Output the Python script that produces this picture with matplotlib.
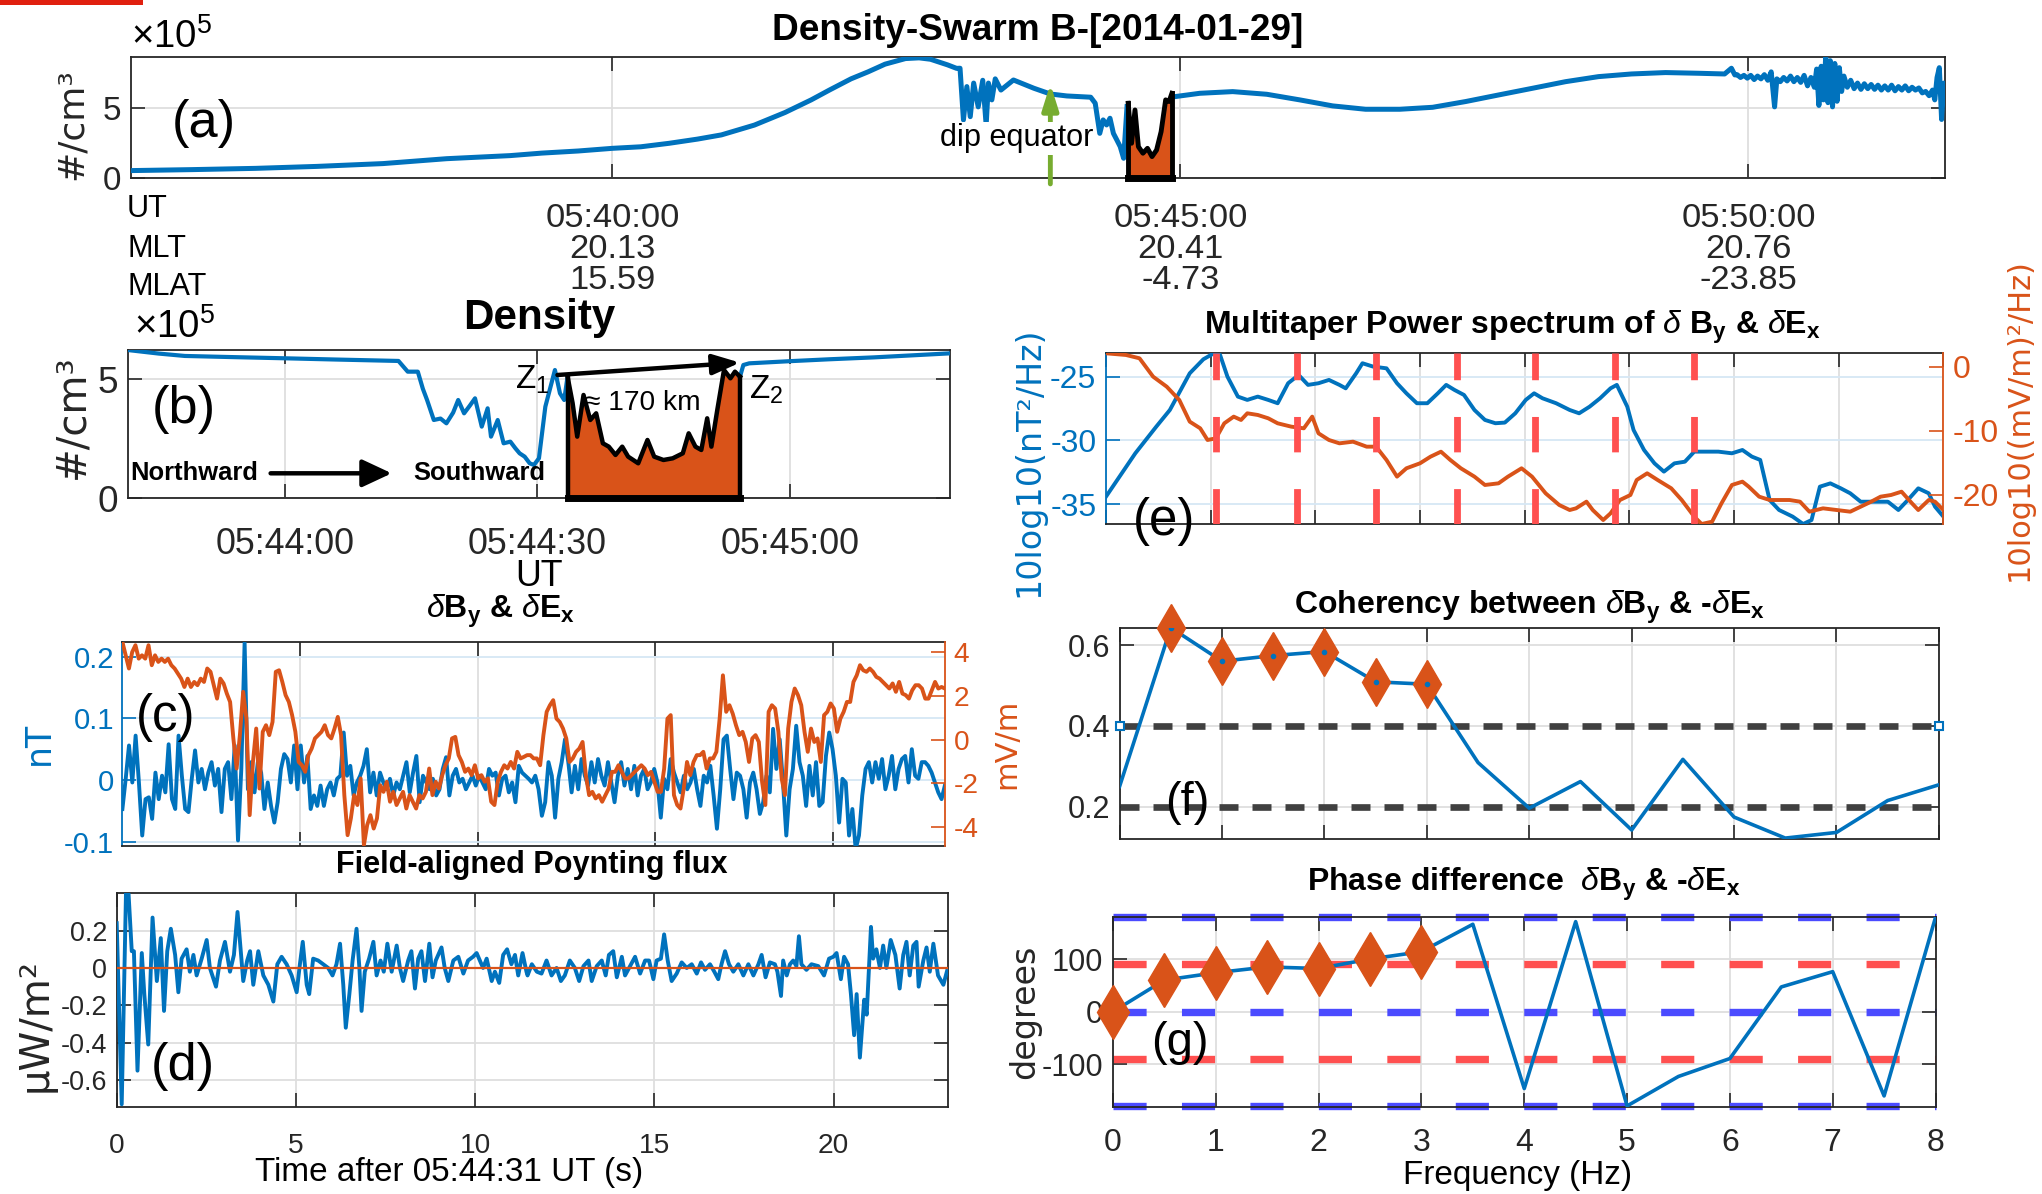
import numpy as np
import matplotlib
matplotlib.use('Agg')
import matplotlib.pyplot as plt
from matplotlib import font_manager as fm

# ---------------------------------------------------------------- data
# (a) density along orbit: minutes after 05:00 UT, units 1e5 /cm^3
a_time = [35.76, 36.30, 36.86, 37.40, 37.98, 38.54, 39.10, 39.38, 39.70, 40.00, 40.25, 40.50, 40.75,
          40.96, 41.25, 41.52, 41.75, 41.91, 42.10, 42.25, 42.40, 42.58, 42.70, 42.80, 42.95, 43.03,
          43.06, 43.09, 43.12, 43.15, 43.18, 43.22, 43.26, 43.29, 43.31, 43.34, 43.37, 43.42, 43.53,
          43.71, 43.855, 44.00, 44.21, 44.25, 44.29, 44.32, 44.35, 44.38, 44.41, 44.44, 44.47, 44.50,
          44.53,
          44.95, 45.17, 45.46, 45.76, 46.05, 46.34, 46.63, 46.93, 47.22, 47.51, 47.80, 48.10, 48.39,
          48.68, 48.97, 49.27, 49.56, 49.79, 49.85, 49.88,
          49.90, 49.93, 49.96, 49.99, 50.02, 50.05, 50.08, 50.11, 50.14, 50.17, 50.20, 50.23, 50.25,
          50.28, 50.31, 50.34, 50.37, 50.40, 50.43, 50.46, 50.49, 50.52, 50.55, 50.58, 50.60, 50.62,
          50.64, 50.66, 50.68, 50.70, 50.72, 50.74, 50.76, 50.78, 50.80, 50.82, 50.84, 50.87, 50.90,
          50.93, 50.96, 50.99, 51.02, 51.05, 51.08, 51.11, 51.14, 51.17, 51.20, 51.23, 51.26, 51.29,
          51.32, 51.35, 51.38, 51.41, 51.44, 51.47, 51.50, 51.53, 51.56, 51.59, 51.62, 51.64, 51.66,
          51.68, 51.70, 51.72, 51.73]
a_dens = [0.55, 0.62, 0.71, 0.85, 1.05, 1.40, 1.62, 1.80, 1.95, 2.14, 2.25, 2.50, 2.80,
          3.10, 3.80, 4.70, 5.60, 6.30, 7.10, 7.60, 8.15, 8.55, 8.60, 8.50, 8.10, 7.85,
          7.86, 4.17, 6.55, 4.40, 6.80, 5.10, 7.00, 3.80, 6.80, 5.60, 7.10, 6.30, 7.02,
          6.43, 6.02, 5.88, 5.79, 5.36, 3.21, 4.17, 3.81, 4.29, 3.21, 2.74, 2.26, 1.43,
          5.12,
          5.83, 6.07, 6.19, 6.00, 5.60, 5.17, 4.93, 4.93, 5.07, 5.48, 5.95, 6.43, 6.90,
          7.26, 7.45, 7.55, 7.50, 7.45, 7.86, 7.38,
          7.40, 7.20, 7.35, 7.15, 7.35, 7.05, 7.30, 7.10, 7.40, 7.00, 7.60, 5.10, 7.10,
          6.90, 7.20, 6.95, 7.30, 6.90, 7.20, 6.85, 7.35, 6.60, 7.20, 6.50, 7.80, 5.20,
          8.00, 5.60, 8.70, 5.40, 8.40, 5.10, 8.20, 5.50, 7.90, 6.20, 7.30, 6.50, 7.00,
          6.40, 6.80, 6.35, 6.75, 6.40, 6.70, 6.35, 6.65, 6.30, 6.60, 6.30, 6.65, 6.25,
          6.55, 6.30, 6.60, 6.25, 6.50, 6.30, 6.45, 6.10, 6.20, 5.90, 6.30, 5.60, 7.20,
          7.90, 4.20, 6.80, 6.60]
a_seg_time = [44.54, 44.57, 44.60, 44.63, 44.67, 44.71, 44.75, 44.79, 44.83, 44.87, 44.90, 44.925]
a_seg_dens = [5.36, 2.50, 4.88, 2.26, 1.79, 2.14, 1.55, 2.02, 3.33, 5.60, 5.48, 6.07]
a_ticks = [40, 45, 50]
a_ticklabels = ['05:40:00\n20.13\n15.59', '05:45:00\n20.41\n-4.73', '05:50:00\n20.76\n-23.85']
dip_equator_time = 43.855

# (b) zoomed density: seconds after 05:44:00 UT
b_time = [-18.7, -15.0, -11.9, -6.0, 0.2, 6.0, 13.5, 14.6, 15.8, 16.4, 16.9, 17.7, 18.5, 19.2, 20.0,
          20.6, 21.3, 22.0, 22.6, 23.4, 24.1, 24.5, 25.3, 26.0, 26.8, 27.4, 27.9, 28.5, 29.1, 29.6,
          30.2, 30.96, 32.1, 32.7, 33.2, 33.6]
b_dens = [6.23, 6.08, 5.98, 5.93, 5.88, 5.83, 5.77, 5.32, 5.32, 4.60, 4.13, 3.29, 3.35, 3.15, 3.60,
          4.13, 3.57, 3.90, 4.20, 3.01, 3.78, 2.59, 3.29, 2.31, 2.38, 2.10, 1.89, 1.75, 1.47, 1.40,
          1.68, 3.85, 5.39, 4.41, 4.13, 5.11]
b_seg_time = [33.6, 34.2, 34.75, 35.5, 36.3, 37.0, 37.8, 38.5, 39.3, 40.1, 40.8, 42.0, 43.1, 43.9,
              45.0, 46.1, 47.3, 48.0, 48.8, 49.5, 50.2, 50.7, 51.4, 52.2, 52.96, 53.5, 54.1]
b_seg_dens = [5.11, 4.00, 2.59, 4.34, 3.29, 3.57, 2.31, 2.17, 1.82, 2.17, 1.75, 1.47, 2.45, 1.75,
              1.61, 1.68, 1.89, 2.73, 2.17, 2.03, 3.36, 2.17, 3.71, 5.39, 5.04, 5.32, 5.11]
b_time2 = [54.1, 54.5, 55.2, 60.0, 64.7, 70.0, 79.1]
b_dens2 = [5.11, 5.60, 5.67, 5.76, 5.84, 5.92, 6.09]
b_ticks = [0, 30, 60]
b_ticklabels = ['05:44:00', '05:44:30', '05:45:00']

# (c) dBy (nT) and dEx (mV/m), evenly sampled over 0-23.15 s after 05:44:31
c_dBy = [-0.047, 0.002, 0.056, -0.004, 0.072, -0.004, -0.090, -0.031, -0.028, -0.063, 0.012, -0.031,
         0.007, -0.020, 0.058, -0.031, -0.047, 0.072, 0.007, -0.047, -0.052, 0.002, 0.048, -0.004,
         0.018, -0.015, 0.012, 0.029, -0.009, 0.018, -0.052, 0.018, 0.029, -0.031, 0.056, -0.098,
         0.018, 0.223, -0.015, 0.029, -0.020, 0.029, 0.012, -0.047, -0.004, -0.042, -0.069, -0.036,
         0.018, 0.042, 0.034, -0.004, 0.056, -0.015, 0.056, -0.004, 0.039, -0.047, -0.025, -0.042,
         -0.009, -0.042, -0.015, -0.004, -0.025, 0.002, 0.007, 0.077, 0.007, 0.023, -0.025, -0.004,
         0.007, 0.023, 0.050, -0.020, 0.012, -0.025, 0.012, -0.004, -0.015, 0.002, -0.025, -0.004,
         -0.015, 0.007, 0.029, -0.020, 0.012, 0.039, -0.036, 0.007, -0.004, -0.015, 0.002, -0.025,
         -0.015, 0.018, 0.037, -0.025, 0.007, 0.018, -0.004, 0.002, -0.015, -0.004, 0.007, -0.009,
         0.007, -0.004, -0.015, 0.018, 0.007, 0.012, -0.025, 0.002, 0.007, -0.020, -0.004, -0.036,
         0.023, 0.012, 0.007, 0.002,
         -0.004, 0.007, -0.015, -0.058, -0.036, 0.029, 0.007, -0.061, 0.002, 0.029, 0.066, 0.029,
         -0.020, 0.023, -0.015, 0.034, 0.007, -0.009, 0.029, -0.004, 0.034, 0.007, -0.009, 0.029,
         -0.004, -0.036, 0.007, 0.029, -0.009, 0.018, -0.015, 0.023, -0.025, 0.007, 0.018, -0.015,
         -0.004, 0.018, -0.004, -0.061, 0.002, -0.015, 0.034, 0.012, -0.004, -0.020, 0.007, -0.015,
         -0.004, 0.018, -0.015, -0.042, 0.007, -0.004, 0.023, -0.025, -0.079, -0.015, 0.066, 0.072,
         0.018, -0.031, 0.012, 0.007, -0.015, -0.061, -0.004, 0.012, -0.015, -0.055, -0.036, 0.007,
         -0.020, 0.083, 0.018, 0.066, -0.004, -0.090, -0.015, 0.018, 0.088, 0.029, 0.007, -0.042,
         0.023, -0.025, 0.029, -0.042, -0.036, 0.039, 0.077, 0.050, 0.007, -0.069, 0.002, -0.004,
         -0.090, -0.047, -0.112, -0.090, -0.025, 0.018, 0.029, -0.004, 0.029, 0.002, 0.034, -0.015,
         0.007, 0.039, -0.015, 0.018, 0.034, 0.039, -0.004, 0.050, 0.007, 0.002, 0.029, 0.029,
         0.023, 0.012, -0.004, -0.020, -0.031, -0.009]
c_dEx = [4.44, 3.83, 3.23, 3.98, 4.29, 3.68, 3.83, 3.68, 4.29, 3.38, 3.83, 3.53, 3.68, 3.53, 3.68,
         3.38, 3.23, 3.00, 2.77, 2.39, 2.77, 2.39, 2.62, 2.47, 2.77, 2.62, 3.23, 3.08, 2.47, 1.86,
         2.77, 2.55, 2.09, 1.71, 0.05, -1.32, 0.20, 2.17, 0.95, -3.44, -1.02, 0.50, -2.23, 0.35,
         0.65, 0.20, 0.80, 3.08, 3.15, 2.62, 2.02, 1.71, 1.11, 0.35, -1.02, -1.17, -1.47, -0.71,
         -0.41, 0.05, 0.20, 0.35, 0.65, 0.20, 0.05, 0.50, 1.03, 0.20, -2.53, -4.35, -3.59, -2.53,
         -2.98, -1.77, -4.80, -3.89, -3.44, -4.05, -3.59, -2.08, -2.38, -1.92, -2.83, -2.38, -2.98,
         -2.68, -2.38, -3.14, -2.53, -2.83, -3.14, -2.53, -2.68, -2.38, -1.32, -2.53, -1.92, -2.23,
         -1.62, -1.17, -0.86, 0.05, 0.12, -0.71, -1.02, -1.47, -1.32, -1.62, -1.17, -1.77, -1.62,
         -1.92, -1.77, -2.83, -2.98, -1.92, -1.47, -1.17, -1.32, -1.02, -1.32, -0.56, -0.86, -0.79,
         -0.71,
         -0.71, -0.86, -0.86, -1.17, 0.20, 1.26, 1.56, 1.79, 0.95, 0.80, 0.50, 0.05, -1.02, -0.86,
         -0.56, -0.41, -0.11, -1.62, -2.53, -2.38, -2.68, -2.53, -2.83, -2.53, -2.23, -1.47, -1.47,
         -1.17, -1.47, -1.77, -1.77, -1.62, -1.47, -1.32, -1.17, -1.32, -1.62, -1.47, -1.92, -2.38,
         -2.38, -1.32, 0.95, 1.11, -2.53, -2.98, -3.14, -2.23, -1.02, -1.62, -1.02, -0.71, -0.71,
         -0.56, -1.32, -0.86, -0.86, -0.56, 0.95, 2.92, 1.26, 1.56, 1.18, 0.65, 0.20, 0.35, -0.11,
         -1.02, 0.05, 0.20, -0.11, -1.92, -2.98, 1.26, 1.56, 1.41, 0.35, -1.77, -2.53, 0.50, 1.71,
         2.32, 2.02, 1.56, 0.35, -0.56, 0.50, -0.11, 0.05, -1.02, 1.11, 1.26, 1.64, 1.41, 0.35,
         0.95, 1.26, 1.71, 1.71, 2.62, 2.92, 3.38, 3.15, 3.08, 3.23, 3.08, 2.85, 2.77, 2.62, 2.47,
         2.32, 2.55, 2.17, 2.62, 2.09, 2.02, 1.86, 2.24, 2.47, 2.47, 2.32, 1.86, 1.86, 2.24, 2.62,
         2.32, 2.39, 2.32]
c_tmax = 23.15

# (d) field-aligned Poynting flux (uW/m^2) vs seconds after 05:44:31
d_time = [0.00, 0.14, 0.26, 0.33, 0.42, 0.48, 0.58, 0.70, 0.77, 0.88, 1.00, 1.12, 1.23, 1.32, 1.41,
          1.51, 1.63, 1.72, 1.81, 1.95, 2.04, 2.14, 2.23, 2.37, 2.51, 2.60, 2.77, 2.88, 3.02, 3.16,
          3.27, 3.37, 3.46, 3.53, 3.64, 3.72, 3.81, 3.95, 4.09, 4.23, 4.37, 4.48, 4.60, 4.74, 4.88,
          5.02, 5.11, 5.19, 5.30, 5.37, 5.48, 5.62, 5.76, 5.90, 6.02, 6.13, 6.23, 6.32, 6.39, 6.49,
          6.58, 6.69, 6.77, 6.83, 6.92, 7.04, 7.16, 7.25, 7.36, 7.45, 7.55, 7.67, 7.81, 7.90, 7.99,
          8.13, 8.22, 8.32, 8.41, 8.50, 8.60, 8.72, 8.81, 8.90, 9.06, 9.15, 9.25, 9.39, 9.53, 9.67,
          9.80, 9.94, 10.04, 10.13, 10.22, 10.32, 10.46, 10.55, 10.67, 10.78, 10.89, 11.01, 11.11,
          11.20, 11.32, 11.43,
          11.46, 11.58, 11.72, 11.85, 11.99, 12.13, 12.27, 12.39, 12.50, 12.64, 12.78, 12.90, 13.02,
          13.16, 13.25, 13.39, 13.53, 13.64, 13.73, 13.85, 13.95, 14.09, 14.18, 14.32, 14.46, 14.60,
          14.74, 14.85, 14.97, 15.06, 15.18, 15.27, 15.37, 15.48, 15.62, 15.76, 15.90, 16.04, 16.18,
          16.30, 16.41, 16.55, 16.67, 16.78, 16.87, 16.97, 17.08, 17.20, 17.34, 17.48, 17.62, 17.76,
          17.90, 17.99, 18.10, 18.22, 18.36, 18.43, 18.53, 18.59, 18.69, 18.78, 18.87, 18.96, 19.03,
          19.10, 19.24, 19.38, 19.57, 19.73, 19.87, 19.99, 20.08, 20.20, 20.29, 20.40, 20.48, 20.57,
          20.64, 20.73, 20.85, 20.92, 21.04, 21.10, 21.19, 21.29, 21.38, 21.47, 21.59, 21.72, 21.84,
          21.94, 22.03, 22.12, 22.22, 22.31, 22.37, 22.50, 22.59, 22.68, 22.78, 22.91, 23.06, 23.17]
d_flux = [0.24, -0.73, 0.41, 0.40, 0.09, 0.09, -0.55, 0.08, -0.14, -0.41, 0.27, -0.07, 0.16, -0.23, 0.09,
          0.21, 0.07, -0.13, 0.05, 0.10, -0.02, 0.07, -0.04, 0.05, 0.15, 0.00, -0.10, 0.04, 0.14, -0.02,
          0.07, 0.30, 0.09, -0.07, 0.04, 0.09, -0.09, 0.09, -0.04, -0.09, -0.18, 0.02, 0.06, 0.02, -0.04,
          -0.13, 0.02, 0.14, -0.09, -0.14, 0.05, 0.04, 0.02, 0.00, -0.04, 0.02, 0.13, -0.09, -0.32, -0.14,
          0.04, 0.21, 0.00, -0.23, -0.02, 0.05, 0.14, -0.04, 0.04, -0.02, 0.13, -0.02, 0.12, 0.00, -0.07,
          0.04, 0.09, -0.11, 0.05, 0.09, -0.07, 0.13, -0.05, 0.04, 0.11, 0.00, -0.07, 0.04, 0.06, -0.03,
          0.04, 0.06, 0.08, 0.04, 0.00, 0.05, -0.07, -0.02, -0.08, 0.07, 0.10, 0.02, 0.07,
          -0.04, 0.08, -0.02,
          -0.04, 0.02, -0.02, -0.03, 0.04, -0.04, 0.00, -0.07, -0.04, 0.04, 0.00, -0.07, 0.01,
          0.04, -0.07, 0.01, 0.04, -0.04, 0.07, 0.09, -0.05, 0.06, -0.04, 0.01, 0.06, -0.03,
          0.04, 0.04, -0.06, 0.04, 0.05, 0.18, 0.04, -0.07, -0.03, 0.03, 0.00, 0.02, -0.03,
          0.03, -0.01, 0.02, -0.02, -0.06, 0.02, 0.09, 0.02, -0.02, 0.02, -0.04, 0.02, -0.04,
          0.02, 0.07, -0.05, 0.03, 0.02, -0.02, -0.15, 0.04, -0.04, 0.02, 0.04, 0.01, 0.17,
          0.02, -0.01, 0.02, 0.01, -0.04, 0.05, 0.06, 0.08, -0.06, 0.06, 0.02, -0.14, -0.36,
          -0.14, -0.48, -0.17, -0.25, 0.22, 0.05, 0.10, 0.00, 0.12, 0.00, 0.15, 0.07, -0.11,
          0.07, 0.14, -0.04, 0.12, 0.14, -0.10, 0.04, 0.11, -0.02, 0.13, -0.04, -0.09, -0.01]

# (e) multitaper power spectra
e_freq_b = [0.00, 0.28, 0.48, 0.61, 0.80, 0.93, 1.03, 1.09, 1.16, 1.26, 1.35, 1.45, 1.55, 1.64, 1.74,
            1.84, 1.93, 2.03, 2.13, 2.23, 2.29, 2.39, 2.45, 2.55, 2.68, 2.78, 2.87, 2.97, 3.07, 3.17,
            3.25, 3.33, 3.42, 3.52, 3.62, 3.72, 3.81, 3.91, 4.01, 4.09, 4.17, 4.30, 4.43, 4.52, 4.62,
            4.72, 4.82, 4.88, 4.98, 5.04, 5.14, 5.24, 5.33, 5.43, 5.53, 5.62, 5.72, 5.85, 5.98, 6.08,
            6.17, 6.25, 6.34, 6.43, 6.56, 6.66, 6.74, 6.82, 6.92, 7.02, 7.11, 7.21, 7.34, 7.47, 7.57,
            7.66, 7.76, 7.86, 7.92, 8.00]
e_psd_b = [-34.42, -31.02, -28.93, -27.62, -24.74, -23.64, -23.17, -23.30, -25.00, -26.57, -26.83,
           -26.57, -26.83, -27.09, -25.52, -24.87, -25.65, -25.52, -25.26, -25.65, -25.92, -24.74,
           -23.95, -24.21, -24.35, -25.52, -26.31, -27.09, -27.09, -26.31, -25.65, -26.05, -26.44,
           -27.62, -28.40, -28.66, -28.61, -27.88, -26.83, -26.31, -26.70, -27.09, -27.62, -27.88,
           -27.36, -26.70, -25.92, -25.65, -27.36, -29.19, -30.76, -31.81, -32.46, -31.81, -31.68,
           -30.89, -30.89, -30.89, -31.02, -30.76, -31.28, -31.54, -34.69, -35.47, -35.99, -36.57,
           -36.26, -33.64, -33.38, -33.77, -34.16, -34.82, -34.82, -34.82, -35.47, -34.69, -33.77,
           -34.16, -35.21, -35.99]
e_freq_e = [0.00, 0.19, 0.32, 0.45, 0.58, 0.70, 0.80, 0.90, 0.97, 1.05, 1.13, 1.22, 1.29, 1.35, 1.45,
            1.55, 1.64, 1.77, 1.89, 1.97, 2.03, 2.13, 2.23, 2.36, 2.49, 2.58, 2.68, 2.78, 2.87, 3.00,
            3.10, 3.20, 3.29, 3.39, 3.52, 3.62, 3.75, 3.84, 3.97, 4.07, 4.20, 4.33, 4.43, 4.49, 4.59,
            4.65, 4.75, 4.82, 4.91, 5.01, 5.07, 5.17, 5.27, 5.40, 5.50, 5.62, 5.69, 5.79, 5.88, 5.98,
            6.08, 6.14, 6.24, 6.34, 6.43, 6.53, 6.63, 6.72, 6.85, 6.98, 7.11, 7.21, 7.31, 7.40, 7.50,
            7.60, 7.70, 7.76, 7.86, 7.92, 8.00]
e_psd_e = [2.08, 1.82, 1.30, -1.56, -3.12, -5.19, -8.57, -9.61, -11.43, -11.17, -8.83, -7.79, -8.31,
           -7.27, -7.53, -8.05, -8.83, -9.35, -9.61, -7.79, -10.39, -11.43, -11.95, -11.69, -12.47,
           -12.47, -14.55, -17.14, -15.84, -15.06, -14.03, -13.25, -14.55, -15.84, -17.14, -18.44,
           -18.18, -17.14, -15.84, -17.14, -19.74, -21.56, -22.34, -22.08, -21.04, -22.34, -23.90,
           -22.86, -20.78, -20.00, -17.66, -16.62, -17.66, -18.96, -20.78, -23.38, -24.52, -24.16,
           -21.30, -18.44, -17.92, -18.70, -20.26, -20.78, -20.78, -20.78, -21.04, -22.60, -22.08,
           -22.34, -22.60, -21.82, -21.04, -20.26, -20.00, -19.48, -21.30, -22.34, -20.78, -21.04,
           -22.34]
e_peaks = [1.055, 1.82, 2.58, 3.35, 4.10, 4.86, 5.62]

# (f), (g) coherency and phase
freq = [0, 0.5, 1, 1.5, 2, 2.5, 3, 3.5, 4, 4.5, 5, 5.5, 6, 6.5, 7, 7.5, 8]
coh = [0.250, 0.643, 0.560, 0.574, 0.584, 0.509, 0.503, 0.309, 0.196, 0.262, 0.142, 0.317, 0.174,
       0.122, 0.136, 0.215, 0.254]
phase = [0, 60, 74, 85, 82, 100, 114, 166, -146, 171, -179, -123, -89, 47, 76, -160, 179]
coh_marked = [1, 2, 3, 4, 5, 6]
phase_marked = [0, 1, 2, 3, 4, 5, 6]
coh_levels = [0.4, 0.2]
phase_levels_blue = [180, 0, -180]
phase_levels_red = [90, -90]

# ---------------------------------------------------------------- style
names = {f.name for f in fm.fontManager.ttflist}
NARROW = 'Liberation Sans Narrow' in names
FONT = 'Liberation Sans Narrow' if NARROW else 'Liberation Sans'
S = 1.0 if NARROW else 0.92

plt.rcParams['font.family'] = [FONT, 'DejaVu Sans']
plt.rcParams['mathtext.fontset'] = 'custom'
plt.rcParams['mathtext.rm'] = FONT
plt.rcParams['mathtext.it'] = FONT + ':italic'
plt.rcParams['mathtext.bf'] = FONT + ':bold'
plt.rcParams['mathtext.sf'] = FONT
plt.rcParams['axes.unicode_minus'] = False

BLUE = '#0072bd'
ORANGE = '#d95319'
GREEN = '#77ac30'
DRED = '#ff5050'
DBLUE = '#4b4bff'
DGRAY = '#404040'
SPINE = '#262626'
GRID = '#dedede'
BGRID = '#d6e7f4'

W, H = 2042, 1194
fig = plt.figure(figsize=(W / 100, H / 100), dpi=100)


def add_axes(l, t, r, b):
    return fig.add_axes([l / W, 1 - b / H, (r - l) / W, (b - t) / H])


def base_style(ax, fs):
    for sp in ax.spines.values():
        sp.set_color(SPINE)
        sp.set_linewidth(1.3)
    ax.tick_params(which='both', direction='in', length=10, width=1.2, colors=SPINE,
                   top=True, right=True, labelsize=fs * S)
    ax.grid(True, color=GRID, lw=1.3)
    ax.set_axisbelow(True)


def ylab(ax, text, size, color, x, y):
    ax.set_ylabel(text, fontsize=size, color=color, family='DejaVu Sans')
    ax.yaxis.set_label_coords(x, y)
    ax.yaxis.label.set_va('center')


def panel_label(ax, text, x, y, size=40):
    ax.text(x, y, text, transform=ax.transAxes, fontsize=size * S, ha='center', va='center',
            zorder=10)


# red strip at the top-left corner
fig.add_artist(plt.Rectangle((0, 1 - 5 / H), 143 / W, 5 / H, transform=fig.transFigure,
                             color='#e0200f', lw=0))

# ---------------------------------------------------------------- (a)
ax = add_axes(130.7, 57.3, 1945, 178.3)
base_style(ax, 25)
at = np.array(a_time)
ad = np.array(a_dens)
pre = at < a_seg_time[0]
post = at > a_seg_time[-1]
ax.plot(at[pre], ad[pre], color=BLUE, lw=3.6, zorder=3)
ax.plot(at[post], ad[post], color=BLUE, lw=3.6, zorder=3)
ax.fill_between(a_seg_time, 0, a_seg_dens, color=ORANGE, lw=0, zorder=2)
ax.plot(a_seg_time, a_seg_dens, color='k', lw=3.5, zorder=4)
ax.plot([a_seg_time[0]] * 2, [0, a_seg_dens[0]], color='k', lw=3.5, zorder=4)
ax.plot([a_seg_time[-1]] * 2, [0, a_seg_dens[-1]], color='k', lw=3.5, zorder=4)
ax.plot([a_seg_time[0], a_seg_time[-1]], [0, 0], color='k', lw=5, zorder=4, clip_on=False)
ax.set_xlim(35.76, 51.73)
ax.set_ylim(0, 8.64)
ax.set_yticks([0, 5])
ax.set_xticks(a_ticks)
ax.set_xticklabels(a_ticklabels)
ax.tick_params(axis='x', labelsize=27 * S, pad=18)
ax.tick_params(axis='y', labelsize=26 * S, pad=7)
for lab in ax.get_xticklabels():
    lab.set_linespacing(1.0)
ax.annotate('', xy=(dip_equator_time, 6.75), xytext=(dip_equator_time, -0.4),
            arrowprops=dict(arrowstyle='-|>,head_length=0.7,head_width=0.22', color=GREEN,
                            lw=3.5, mutation_scale=22, shrinkA=0, shrinkB=0),
            annotation_clip=False, zorder=3)
ax.text(43.56, 2.86, 'dip equator', fontsize=24 * S, ha='center', va='center', zorder=5,
        bbox=dict(facecolor='white', edgecolor='none', pad=1))
ax.set_title('Density-Swarm B-[2014-01-29]', fontsize=29 * S, fontweight='bold',
             y=1.077, va='baseline')
ax.text(0.0, 1.077, r'$\times$10$^{5}$', transform=ax.transAxes, fontsize=30 * S,
        ha='left', va='baseline')
ylab(ax, '#/cm³', 26, '#262626', -0.0325, 0.45)
panel_label(ax, '(a)', 0.0404, 0.455, 41)
for txt, yy in [('UT', 209), ('MLT', 249), ('MLAT', 287)]:
    fig.text(127 / W, 1 - yy / H, txt, fontsize=24 * S, ha='left', va='center')

# ---------------------------------------------------------------- (b)
ax = add_axes(127.6, 350, 950.3, 498.3)
base_style(ax, 28)
ax.plot(b_time, b_dens, color=BLUE, lw=3, zorder=3)
ax.plot(b_time2, b_dens2, color=BLUE, lw=3, zorder=3)
ax.fill_between(b_seg_time, 0, b_seg_dens, color=ORANGE, lw=0, zorder=2)
ax.plot(b_seg_time, b_seg_dens, color='k', lw=3.2, zorder=4)
ax.plot([b_seg_time[0]] * 2, [0, b_seg_dens[0]], color='k', lw=3.2, zorder=4)
ax.plot([b_seg_time[-1]] * 2, [0, b_seg_dens[-1]], color='k', lw=3.2, zorder=4)
ax.plot([b_seg_time[0], b_seg_time[-1]], [0, 0], color='k', lw=5, zorder=4, clip_on=False)
ax.set_xlim(-18.7, 79.1)
ax.set_ylim(0, 6.23)
ax.set_yticks([0, 5])
ax.set_xticks(b_ticks)
ax.set_xticklabels(b_ticklabels)
ax.tick_params(axis='x', labelsize=28 * S, pad=21)
ax.tick_params(axis='y', labelsize=29 * S, pad=7)
ax.set_xlabel('UT', fontsize=28 * S)
ax.xaxis.set_label_coords(0.5, -0.53)
ax.xaxis.label.set_va('center')
ax.annotate('', xy=(b_seg_time[-1], 5.70), xytext=(32.4, 5.18),
            arrowprops=dict(arrowstyle='-|>,head_length=0.75,head_width=0.28', color='k', lw=3.2,
                            mutation_scale=22, shrinkA=0, shrinkB=0), zorder=6)
ax.annotate('', xy=(12.7, 1.05), xytext=(-1.7, 1.05),
            arrowprops=dict(arrowstyle='-|>,head_length=0.75,head_width=0.35', color='k', lw=3.2,
                            mutation_scale=24, shrinkA=0, shrinkB=0), zorder=6)
ax.text(-18.36, 1.05, 'Northward', fontsize=20 * S, fontweight='bold', ha='left', va='center')
ax.text(15.25, 1.05, 'Southward', fontsize=20 * S, fontweight='bold', ha='left', va='center')
ax.text(27.4, 4.97, r'Z$_1$', fontsize=26 * S, ha='left', va='center')
ax.text(55.2, 4.55, r'Z$_2$', fontsize=26 * S, ha='left', va='center')
ax.text(35.7, 3.99, '≈ 170 km', fontsize=22 * S, ha='left', va='center', zorder=6)
ax.set_title('Density', fontsize=33 * S, fontweight='bold', y=1.087, va='baseline')
ax.text(0.008, 1.08, r'$\times$10$^{5}$', transform=ax.transAxes, fontsize=30 * S,
        ha='left', va='baseline')
ylab(ax, '#/cm³', 29, '#262626', -0.0676, 0.549)
panel_label(ax, '(b)', 0.068, 0.597, 41)

# ---------------------------------------------------------------- (c)
ax = add_axes(122.4, 641.7, 945.2, 845.7)
base_style(ax, 22)
ax.tick_params(axis='y', colors=BLUE, right=False, labelsize=23 * S, pad=6)
ax.tick_params(axis='x', labelbottom=False)
ax.spines['left'].set_color(BLUE)
ax.spines['right'].set_visible(False)
ax.yaxis.grid(True, color=BGRID, lw=1.3)
ct = np.linspace(0, c_tmax, len(c_dBy))
ax.plot(ct, c_dBy, color=BLUE, lw=2.8, zorder=3)
ax.set_xlim(0, 23.16)
ax.set_ylim(-0.1065, 0.2243)
ax.set_yticks([-0.1, 0, 0.1, 0.2])
ax.set_yticklabels(['-0.1', '0', '0.1', '0.2'])
ax.set_xticks([5, 10, 15, 20])
ax.set_title(r'$\delta\mathbf{B}_{\mathbf{y}}$ & $\delta\mathbf{E}_{\mathbf{x}}$',
             fontsize=25 * S, fontweight='bold', x=0.46, y=1.075, va='baseline')
ylab(ax, 'nT', 25, BLUE, -0.1013, 0.5)
panel_label(ax, '(c)', 0.052, 0.626, 40)
ax2 = ax.twinx()
for k in ['left', 'top', 'bottom']:
    ax2.spines[k].set_visible(False)
ax2.spines['right'].set_color(ORANGE)
ax2.spines['right'].set_linewidth(1.3)
ax2.tick_params(axis='y', direction='in', length=10, width=1.2, colors=ORANGE,
                labelsize=22 * S, pad=6)
cte = np.linspace(0, c_tmax, len(c_dEx))
ax2.plot(cte, c_dEx, color=ORANGE, lw=2.8, zorder=3)
ax2.set_ylim(-4.83, 4.45)
ax2.set_yticks([-4, -2, 0, 2, 4])
ylab(ax2, 'mV/m', 22, ORANGE, 1.075, 0.5)

# ---------------------------------------------------------------- (d)
ax = add_axes(116.7, 893.3, 947.7, 1106.7)
base_style(ax, 20)
ax.plot(d_time, d_flux, color=BLUE, lw=2.8, zorder=3)
ax.axhline(0, color=ORANGE, lw=1.6, zorder=4)
ax.set_xlim(0, 23.18)
ax.set_ylim(-0.743, 0.40)
ax.set_yticks([-0.6, -0.4, -0.2, 0, 0.2])
ax.set_yticklabels(['-0.6', '-0.4', '-0.2', '0', '0.2'])
ax.set_xticks([0, 5, 10, 15, 20])
ax.tick_params(axis='x', labelsize=22 * S, pad=19)
ax.tick_params(axis='y', labelsize=21 * S, pad=7)
ax.set_xlabel('Time after 05:44:31 UT (s)', fontsize=26 * S)
ax.xaxis.set_label_coords(0.40, -0.31)
ax.xaxis.label.set_va('center')
ax.set_title('Field-aligned Poynting flux', fontsize=24 * S, fontweight='bold',
             y=1.056, va='baseline')
ylab(ax, 'μW/m²', 29, '#262626', -0.0971, 0.383)
panel_label(ax, '(d)', 0.080, 0.187, 41)

# ---------------------------------------------------------------- (e)
ax = add_axes(1106, 353.3, 1943.4, 524)
base_style(ax, 22)
ax.tick_params(axis='y', colors=BLUE, right=False, labelsize=25 * S, pad=7)
ax.tick_params(axis='x', labelbottom=False)
ax.spines['left'].set_color(BLUE)
ax.spines['right'].set_visible(False)
ax.yaxis.grid(True, color=BGRID, lw=1.3)
ax.plot(e_freq_b, e_psd_b, color=BLUE, lw=2.8, zorder=3)
ax.set_xlim(0, 8)
ax.set_ylim(-36.57, -23.17)
ax.set_yticks([-35, -30, -25])
ax.set_xticks(range(0, 9))
ax.set_title(r'Multitaper Power spectrum of $\delta$ B$_\mathbf{y}$ & $\delta$E$_\mathbf{x}$',
             fontsize=25 * S, fontweight='bold', x=0.485, y=1.067, va='baseline')
ylab(ax, '10log10(nT²/Hz)', 24, BLUE, -0.092, 0.363)
ax2 = ax.twinx()
for k in ['left', 'top', 'bottom']:
    ax2.spines[k].set_visible(False)
ax2.spines['right'].set_color(ORANGE)
ax2.spines['right'].set_linewidth(1.3)
ax2.tick_params(axis='y', direction='in', length=10, width=1.2, colors=ORANGE,
                labelsize=25 * S, pad=7)
ax2.plot(e_freq_e, e_psd_e, color=ORANGE, lw=2.8, zorder=3)
ax2.set_ylim(-24.52, 2.08)
ax2.set_yticks([-20, -10, 0])
for fpk in e_peaks:
    ax2.axvline(fpk, color=DRED, lw=4.9, dashes=(5.2, 5.4), zorder=5)
ylab(ax2, '10log10((mV/m)²/Hz)', 22, ORANGE, 1.09, 0.61)
panel_label(ax2, '(e)', 0.069, 0.013, 40)

# ---------------------------------------------------------------- (f)
ax = add_axes(1119.6, 627.7, 1938.9, 839.3)
base_style(ax, 22)
ax.tick_params(axis='x', labelbottom=False)
ax.tick_params(axis='y', labelsize=24 * S, pad=7)
for lv in coh_levels:
    ax.axhline(lv, color=DGRAY, lw=4.8, dashes=(2.85, 2.1), zorder=2)
ax.plot([freq[0], freq[-1]], [coh_levels[0]] * 2, ls='none', marker='s', ms=6, mfc='white',
        mec=BLUE, mew=1.5, zorder=6, clip_on=False)
ax.plot(freq, coh, color=BLUE, lw=2.6, zorder=3)
ax.plot([freq[i] for i in coh_marked], [coh[i] for i in coh_marked], ls='none', marker='d',
        ms=24, color=ORANGE, mec=ORANGE, zorder=4, clip_on=False)
ax.plot([freq[i] for i in coh_marked], [coh[i] for i in coh_marked], ls='none', marker='o',
        ms=3, color=BLUE, zorder=5)
ax.set_xlim(0, 8)
ax.set_ylim(0.119, 0.643)
ax.set_yticks([0.2, 0.4, 0.6])
ax.set_xticks(range(0, 9))
ax.set_title(r'Coherency between $\delta$B$_\mathbf{y}$ & -$\delta$E$_\mathbf{x}$',
             fontsize=25 * S, fontweight='bold', y=1.025, va='baseline')
panel_label(ax, '(f)', 0.083, 0.172, 37)

# ---------------------------------------------------------------- (g)
ax = add_axes(1113, 916.7, 1935.5, 1107.3)
base_style(ax, 23)
ax.tick_params(axis='x', labelsize=25 * S, pad=15)
ax.tick_params(axis='y', labelsize=24 * S, pad=7)
for lv in phase_levels_blue:
    ax.axhline(lv, color=DBLUE, lw=5.3, dashes=(4.5, 4.8), zorder=2, clip_on=False)
for lv in phase_levels_red:
    ax.axhline(lv, color=DRED, lw=5.3, dashes=(4.5, 4.8), zorder=2)
ax.plot(freq, phase, color=BLUE, lw=2.6, zorder=3)
ax.plot([freq[i] for i in phase_marked], [phase[i] for i in phase_marked], ls='none',
        marker='d', ms=28, color=ORANGE, mec=ORANGE, zorder=4, clip_on=False)
ax.set_xlim(0, 8)
ax.set_ylim(-181.6, 180.4)
ax.set_yticks([-100, 0, 100])
ax.set_xticks(range(0, 9))
ax.set_xlabel('Frequency (Hz)', fontsize=26 * S)
ax.xaxis.set_label_coords(0.492, -0.357)
ax.xaxis.label.set_va('center')
ax.set_title(r'Phase difference  $\delta$B$_\mathbf{y}$ & -$\delta$E$_\mathbf{x}$',
             fontsize=25 * S, fontweight='bold', y=1.093, va='baseline')
ylab(ax, 'degrees', 24, '#262626', -0.107, 0.5)
panel_label(ax, '(g)', 0.081, 0.337, 37)

fig.savefig('out.png', dpi=100)
